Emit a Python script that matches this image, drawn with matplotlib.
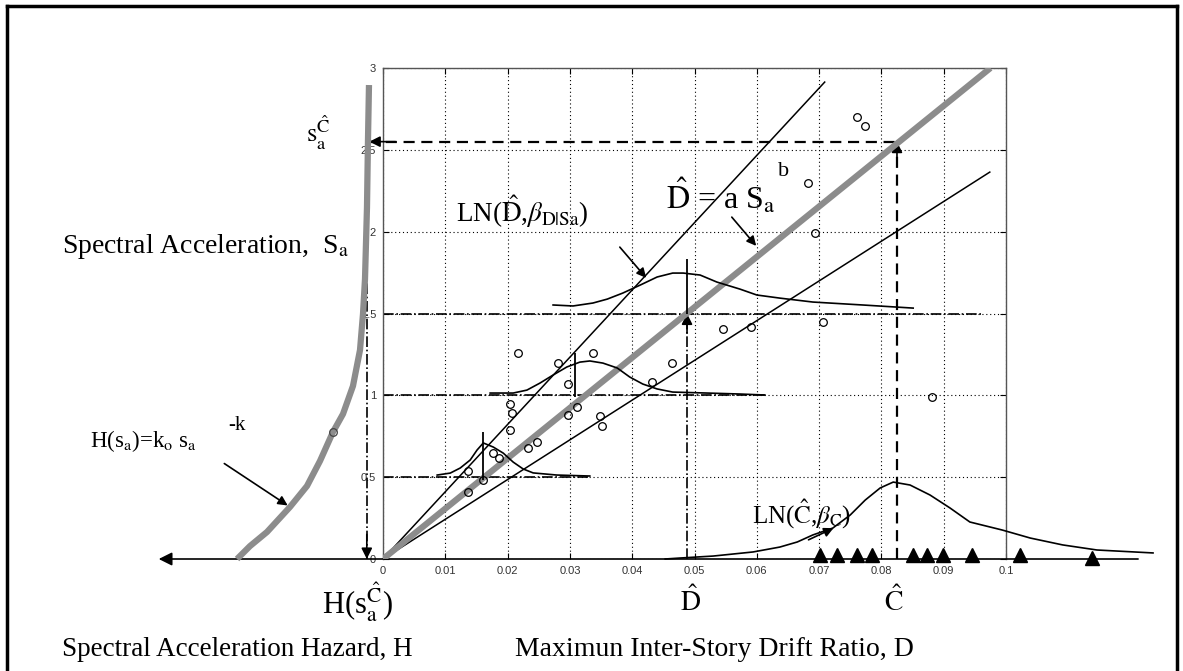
import matplotlib

matplotlib.use("Agg")
import matplotlib.pyplot as plt  # noqa: E402
from matplotlib.lines import Line2D  # noqa: E402
from matplotlib.patches import FancyArrowPatch  # noqa: E402

W, H = 1183, 671

# --- data ------------------------------------------------------------------
x_ticks = [0, 0.01, 0.02, 0.03, 0.04, 0.05, 0.06, 0.07, 0.08, 0.09, 0.1]
x_tick_labels = ["0", "0.01", "0.02", "0.03", "0.04", "0.05", "0.06", "0.07",
                 "0.08", "0.09", "0.1"]
y_ticks = [0, 0.5, 1, 1.5, 2, 2.5, 3]
y_tick_labels = ["0", "0.5", "1", "1.5", "2", "2.5", "3"]

# median fit D = a Sa^b (gray) and the two bounding lines
median_x = [0, 0.0975]
median_y = [0, 3.0]
upper_x = [0, 0.0709]
upper_y = [0, 2.914]
lower_x = [0, 0.0974]
lower_y = [0, 2.364]

# drift demand samples (open circles)
demand_x = [0.0217, 0.0281, 0.0337, 0.0297, 0.0204, 0.0207, 0.0204, 0.0311,
            0.0297, 0.0348, 0.0351, 0.0247, 0.0233, 0.0177, 0.0186, 0.0136,
            0.0161, 0.0136, 0.0432, 0.0464, 0.0546, 0.0590, 0.0706, 0.0693,
            0.0682, 0.0761, 0.0774, 0.0881]
demand_y = [1.26, 1.20, 1.26, 1.07, 0.947, 0.89, 0.788, 0.93,
            0.88, 0.874, 0.81, 0.715, 0.68, 0.647, 0.617, 0.537,
            0.483, 0.41, 1.08, 1.20, 1.405, 1.42, 1.45, 1.99,
            2.30, 2.70, 2.645, 0.99]

# capacity samples (filled triangles on the drift axis)
capacity_x = [0.0701, 0.0729, 0.0761, 0.0785, 0.0851, 0.0873, 0.0899,
              0.0945, 0.1022, 0.1138]
capacity_y = [0.027, 0.027, 0.027, 0.027, 0.027, 0.027, 0.027,
              0.027, 0.027, 0.006]

# conditional demand densities LN(D^, beta_D|Sa) at Sa = 0.5, 1, 1.5
pdf1_x = [0.0087, 0.0108, 0.0124, 0.0140, 0.0151, 0.0161, 0.0177, 0.0193,
          0.0209, 0.0225, 0.0241, 0.0279, 0.0332]
pdf1_y = [0.513, 0.525, 0.556, 0.605, 0.666, 0.709, 0.684, 0.647,
          0.592, 0.550, 0.526, 0.513, 0.507]
pdf2_x = [0.0172, 0.0209, 0.0231, 0.0252, 0.0273, 0.0295, 0.0316, 0.0332,
          0.0353, 0.0376, 0.0396, 0.0417, 0.0440, 0.0465, 0.0520, 0.0573,
          0.0613]
pdf2_y = [1.014, 1.014, 1.032, 1.075, 1.124, 1.173, 1.203, 1.210,
          1.197, 1.167, 1.112, 1.069, 1.039, 1.020, 1.014, 1.008,
          1.002]
pdf3_x = [0.0273, 0.0305, 0.0337, 0.0360, 0.0385, 0.0413, 0.0440, 0.0465,
          0.0482, 0.0509, 0.0536, 0.0573, 0.0600, 0.0637, 0.0690, 0.0770,
          0.0851]
pdf3_y = [1.552, 1.546, 1.564, 1.588, 1.625, 1.674, 1.723, 1.747,
          1.747, 1.735, 1.692, 1.649, 1.613, 1.594, 1.570, 1.552,
          1.533]
# capacity density LN(C^, beta_C)
pdfc_x = [0.0453, 0.0477, 0.0530, 0.0594, 0.0637, 0.0665, 0.0690, 0.0722,
          0.0750, 0.0774, 0.0798, 0.0819, 0.0846, 0.0878, 0.0910, 0.0942,
          0.0994, 0.1039, 0.1091, 0.1146, 0.1236]
pdfc_y = [0.0, 0.006, 0.018, 0.043, 0.073, 0.104, 0.147, 0.189,
          0.269, 0.360, 0.434, 0.470, 0.452, 0.391, 0.312, 0.226,
          0.177, 0.128, 0.086, 0.055, 0.037]

# medians of the three demand densities (x, y_low, y_high)
med_x = [0.0161, 0.0308, 0.0488]
med_lo = [0.483, 0.99, 1.50]
med_hi = [0.776, 1.26, 1.83]

# hazard curve H(sa) = ko sa^-k, drawn to the left of the Sa axis
hazard_x = [-0.02343, -0.02135, -0.01862, -0.01493, -0.01220, -0.01011,
            -0.00803, -0.00642, -0.00482, -0.00369, -0.00321, -0.00289,
            -0.00257, -0.00241, -0.00225]
hazard_y = [0.0, 0.079, 0.165, 0.318, 0.446, 0.599, 0.776, 0.886, 1.057,
            1.277, 1.497, 1.710, 2.150, 2.560, 2.896]

d_hat = 0.0488       # median demand at Sa = 1.5
sa_dhat = 1.5
c_hat = 0.0825       # median capacity
sa_chat = 2.55
hazard_at_chat = -0.0024
axis_left = -0.036
axis_right = 0.1212


def fpx(x, y):
    """reference pixel -> figure fraction"""
    return x / W, 1 - y / H


plt.rcParams["font.family"] = ["Liberation Serif", "DejaVu Serif"]
plt.rcParams["mathtext.fontset"] = "stix"

fig = plt.figure(figsize=(W / 100, H / 100), dpi=100)
ax = fig.add_axes([383 / W, 1 - 559 / H, (1006 - 383) / W, (559 - 68) / H])
ax.set_xlim(0, 0.1)
ax.set_ylim(0, 3)

ax.set_xticks(x_ticks)
ax.set_xticklabels(x_tick_labels, fontsize=8, family="Liberation Sans", color="#333333")
ax.set_yticks(y_ticks)
ax.set_yticklabels(y_tick_labels, fontsize=8, family="Liberation Sans", color="#333333")
ax.tick_params(direction="in", length=4, width=0.8, top=True, right=True, pad=5)
ax.grid(True, color="black", linestyle=(0, (1, 2.5)), linewidth=0.8)
for s in ("top", "right", "left"):
    ax.spines[s].set_color("#555555")
    ax.spines[s].set_linewidth(1.0)
ax.spines["bottom"].set_visible(False)

# drift axis with arrow to the left
ax.annotate("", xy=(axis_left, 0), xytext=(axis_right, 0), annotation_clip=False,
            arrowprops=dict(arrowstyle="-|>", color="black", lw=1.2,
                            mutation_scale=20, shrinkA=0, shrinkB=0))

# guide lines
for y, x_end in zip([0.5, 1.0, 1.5], [0.0332, 0.0613, 0.096]):
    ax.plot([0, x_end], [y, y], color="black", lw=1.2, linestyle="-.", zorder=2)
ax.plot([d_hat, d_hat], [0, sa_dhat], color="black", lw=1.2, linestyle="-.", zorder=2)
ax.plot([c_hat, c_hat], [0, sa_chat], color="black", lw=1.6, linestyle=(0, (5, 3)), zorder=2)
ax.plot([hazard_at_chat, c_hat], [sa_chat, sa_chat], color="black", lw=1.6,
        linestyle=(0, (5, 3)), zorder=2, clip_on=False)
ax.plot([hazard_at_chat - 0.0002] * 2, [0, sa_chat], color="black", lw=1.2,
        linestyle="-.", zorder=2, clip_on=False)

arrow = dict(arrowstyle="-|>", color="black", lw=1.2, mutation_scale=16, shrinkA=0, shrinkB=0)
ax.annotate("", xy=(d_hat, sa_dhat), xytext=(d_hat, sa_dhat - 0.12), arrowprops=arrow)
ax.annotate("", xy=(c_hat, sa_chat), xytext=(c_hat, sa_chat - 0.15), arrowprops=arrow)
ax.annotate("", xy=(hazard_at_chat + 0.0002, sa_chat), xytext=(0.002, sa_chat),
            arrowprops=arrow, annotation_clip=False)
ax.annotate("", xy=(hazard_at_chat - 0.0002, 0.0), xytext=(hazard_at_chat - 0.0002, 0.15),
            arrowprops=arrow, annotation_clip=False)

# fit lines
ax.plot(upper_x, upper_y, color="black", lw=1.1, zorder=3)
ax.plot(lower_x, lower_y, color="black", lw=1.1, zorder=3)
ax.plot(median_x, median_y, color="#8c8c8c", lw=4.5, zorder=3, solid_capstyle="butt")

# densities
for px_, py_ in ((pdf1_x, pdf1_y), (pdf2_x, pdf2_y), (pdf3_x, pdf3_y)):
    ax.plot(px_, py_, color="black", lw=1.2, zorder=4)
ax.plot(pdfc_x, pdfc_y, color="black", lw=1.2, zorder=4, clip_on=False)
ax.vlines(med_x, med_lo, med_hi, color="black", lw=1.3, zorder=4)

# hazard curve
ax.plot(hazard_x, hazard_y, color="#8c8c8c", lw=4.5, clip_on=False, zorder=3,
        solid_capstyle="butt")

# samples
ax.plot(demand_x, demand_y, "o", ms=5.5, mfc="none", mec="black", mew=0.9, zorder=5)
ax.plot([-0.00803], [0.776], "o", ms=5.5, mfc="none", mec="#444444", mew=0.9,
        zorder=5, clip_on=False)
ax.plot(capacity_x, capacity_y, "^", ms=10.5, color="black", zorder=5, clip_on=False)


# --- text -------------------------------------------------------------------
def label(x, y, s, size, ha="left", va="center"):
    fig.text(*fpx(x, y), s, fontsize=size, ha=ha, va=va, color="black")


label(318, 133, r"$\mathrm{s}_\mathrm{a}^{\hat{\mathrm{C}}}$", 19, ha="center")
label(62, 246, r"Spectral Acceleration,  S$_\mathrm{a}$", 20)
label(90, 441, r"H(s$_\mathrm{a}$)=k$_\mathrm{o}$ s$_\mathrm{a}$", 16.5)
label(228, 425, "-k", 15)
label(322, 602, r"H(s$_\mathrm{a}^{\hat{\mathrm{C}}}$)", 22)
label(690, 602, r"$\hat{\mathrm{D}}$", 20, ha="center")
label(894, 602, r"$\hat{\mathrm{C}}$", 20, ha="center")
label(62, 649, "Spectral Acceleration Hazard, H", 19.5)
label(515, 649, "Maximun Inter-Story Drift Ratio, D", 20)
label(456, 212, r"LN($\hat{\mathrm{D}}$,$\beta_{\mathrm{D|Sa}}$)", 19.5)
label(666, 196, r"$\hat{\mathrm{D}}$ = a S$_\mathrm{a}$", 23)
label(778, 172, "b", 16)
label(752, 514, r"LN($\hat{\mathrm{C}}$,$\beta_\mathrm{C}$)", 18)

for (x0, y0), (x1, y1) in [((618, 245), (648, 280)),
                           ((730, 215), (758, 248)),
                           ((806, 541), (836, 527)),
                           ((222, 462), (290, 507))]:
    fig.add_artist(FancyArrowPatch(
        fpx(x0, y0), fpx(x1, y1), transform=fig.transFigure,
        arrowstyle="-|>", mutation_scale=14, color="black", lw=1.2))

# outer frame
for xs, ys in [((7, 7), (6, H)), ((7, 1177), (6, 6)), ((1177, 1177), (6, H))]:
    fig.add_artist(Line2D([x / W for x in xs], [1 - y / H for y in ys],
                          transform=fig.transFigure, color="black", lw=2.5))

fig.savefig("out.png", dpi=100, facecolor="white")
